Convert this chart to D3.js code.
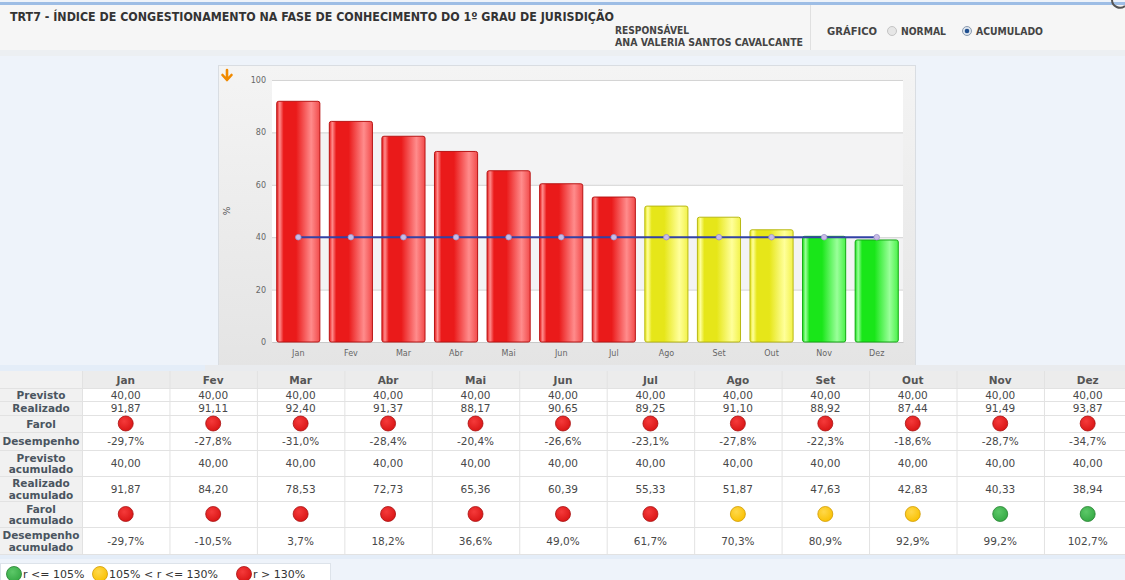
<!DOCTYPE html>
<html><head><meta charset="utf-8">
<script src="https://cdn.jsdelivr.net/npm/d3@7"></script>
<style>
body{margin:0;background:#eef3fa;overflow:hidden}
svg{display:block;font-family:"DejaVu Sans",Verdana,sans-serif}
</style></head>
<body><svg id="c" width="1125" height="580"></svg>
<script>
const months = ["Jan","Fev","Mar","Abr","Mai","Jun","Jul","Ago","Set","Out","Nov","Dez"];
const previsto = [40,40,40,40,40,40,40,40,40,40,40,40];
const realizado = [91.87,91.11,92.40,91.37,88.17,90.65,89.25,91.10,88.92,87.44,91.49,93.87];
const farol = ["r","r","r","r","r","r","r","r","r","r","r","r"];
const desempenho = [-29.7,-27.8,-31.0,-28.4,-20.4,-26.6,-23.1,-27.8,-22.3,-18.6,-28.7,-34.7];
const previstoAcum = [40,40,40,40,40,40,40,40,40,40,40,40];
const realizadoAcum = [91.87,84.20,78.53,72.73,65.36,60.39,55.33,51.87,47.63,42.83,40.33,38.94];
const farolAcum = ["r","r","r","r","r","r","r","y","y","y","g","g"];
const desempenhoAcum = [-29.7,-10.5,3.7,18.2,36.6,49.0,61.7,70.3,80.9,92.9,99.2,102.7];
const yTicks = [0,20,40,60,80,100];
const legendItems = [["g","r <= 105%"],["y","105% < r <= 130%"],["r","r > 130%"]];

const loc = d3.formatLocale({decimal:",",thousands:".",grouping:[3],currency:["",""],minus:"-"});
const f2 = loc.format(".2f"), f1 = loc.format(".1f");
const pct = v => f1(v) + "%";

const svg = d3.select("#c");
const defs = svg.append("defs");

const barCols = {
  r:{base:"#ea1a1a",light:"#ff8c8c",mid:"#f24a4a",edge:"#b81414"},
  y:{base:"#e6e619",light:"#ffff9a",mid:"#f2f24a",edge:"#b8b814"},
  g:{base:"#19e619",light:"#9aff9a",mid:"#4af24a",edge:"#14a814"}
};
Object.entries(barCols).forEach(([k,c])=>{
  const g = defs.append("linearGradient").attr("id","bar"+k).attr("x1","0").attr("x2","1").attr("y1","0").attr("y2","0");
  [[0,c.base],[0.07,c.light],[0.16,c.base],[0.45,c.base],[0.8,c.light],[1,c.mid]].forEach(([o,col])=>g.append("stop").attr("offset",o).attr("stop-color",col));
});
const dotCols = {r:["#f53a3a","#d81414","#a81010"],y:["#ffd84a","#f9c000","#d09a00"],g:["#5cc868","#34a843","#23802e"]};
Object.entries(dotCols).forEach(([k,c])=>{
  const g = defs.append("radialGradient").attr("id","dot"+k).attr("cx","0.4").attr("cy","0.35").attr("r","0.7");
  g.append("stop").attr("offset",0).attr("stop-color",c[0]);
  g.append("stop").attr("offset",1).attr("stop-color",c[1]);
});
const pg = defs.append("linearGradient").attr("id","panel").attr("x1",0).attr("x2",0).attr("y1",0).attr("y2",1);
pg.append("stop").attr("offset",0).attr("stop-color","#f4f4f4");
pg.append("stop").attr("offset",1).attr("stop-color","#e4e4e4");

// ===== header =====
svg.append("rect").attr("x",0).attr("y",0).attr("width",1125).attr("height",580).attr("fill","#eef3fa");
svg.append("rect").attr("x",0).attr("y",5).attr("width",1125).attr("height",45).attr("fill","#f6f6f6");
svg.append("rect").attr("x",0).attr("y",50).attr("width",1125).attr("height",6).attr("fill","#eceff2");
svg.append("rect").attr("x",0).attr("y",2).attr("width",1125).attr("height",3).attr("fill","#9dbde5");
svg.append("line").attr("x1",810.5).attr("x2",810.5).attr("y1",5).attr("y2",50).attr("stroke","#e0e0e0");
svg.append("path").attr("d","M1112,0 A8,8 0 0 0 1125,6").attr("fill","none").attr("stroke","#555").attr("stroke-width",2);

svg.append("text").attr("x",10).attr("y",21).attr("font-size",12).attr("font-weight","bold").attr("fill","#333")
  .attr("textLength",604).attr("lengthAdjust","spacingAndGlyphs")
  .text("TRT7 - ÍNDICE DE CONGESTIONAMENTO NA FASE DE CONHECIMENTO DO 1º GRAU DE JURISDIÇÃO");
svg.append("text").attr("x",615).attr("y",34).attr("font-size",10).attr("font-weight","bold").attr("fill","#444")
  .attr("textLength",74).attr("lengthAdjust","spacingAndGlyphs").text("RESPONSÁVEL");
svg.append("text").attr("x",615).attr("y",46).attr("font-size",10).attr("font-weight","bold").attr("fill","#444")
  .attr("textLength",188).attr("lengthAdjust","spacingAndGlyphs").text("ANA VALERIA SANTOS CAVALCANTE");
svg.append("text").attr("x",827).attr("y",35).attr("font-size",10).attr("font-weight","bold").attr("fill","#444")
  .attr("textLength",50).attr("lengthAdjust","spacingAndGlyphs").text("GRÁFICO");
svg.append("circle").attr("cx",892).attr("cy",31).attr("r",4.5).attr("fill","#e6e6e6").attr("stroke","#c4c4c4");
svg.append("text").attr("x",901).attr("y",35).attr("font-size",10).attr("font-weight","bold").attr("fill","#444")
  .attr("textLength",45).attr("lengthAdjust","spacingAndGlyphs").text("NORMAL");
svg.append("circle").attr("cx",967).attr("cy",31).attr("r",4.5).attr("fill","#dfe6ee").attr("stroke","#8a9aae");
svg.append("circle").attr("cx",967).attr("cy",31).attr("r",2.3).attr("fill","#1f4f8f");
svg.append("text").attr("x",976).attr("y",35).attr("font-size",10).attr("font-weight","bold").attr("fill","#444")
  .attr("textLength",67).attr("lengthAdjust","spacingAndGlyphs").text("ACUMULADO");

// ===== chart panel =====
svg.append("rect").attr("x",218.5).attr("y",65.5).attr("width",697).attr("height",303).attr("fill","url(#panel)").attr("stroke","#d9dde2");
const plot = {l:272,r:903,t:80,b:342};
const x = d3.scaleBand().domain(months).range([plot.l,plot.r]).paddingInner(0.18).paddingOuter(0.09);
const y = d3.scaleLinear().domain([0,100]).range([plot.b,plot.t]);
const cg = svg.append("g");
for(let i=0;i<yTicks.length-1;i++){
  cg.append("rect").attr("x",plot.l).attr("width",plot.r-plot.l)
    .attr("y",y(yTicks[i+1])).attr("height",y(yTicks[i])-y(yTicks[i+1]))
    .attr("fill", i%2===0 ? "#ffffff" : "#f3f3f4");
}
const yAxis = cg.append("g").attr("transform",`translate(${plot.l},0)`)
  .call(d3.axisLeft(y).tickValues(yTicks).tickSize(-(plot.r-plot.l)).tickPadding(6));
yAxis.select(".domain").remove();
yAxis.selectAll(".tick line").attr("stroke","#d4d4d4");
yAxis.selectAll(".tick text").attr("fill","#666").attr("font-size",8).attr("font-family","DejaVu Sans");

const xAxis = cg.append("g").attr("transform",`translate(0,${plot.b})`)
  .call(d3.axisBottom(x).tickSize(0).tickPadding(8));
xAxis.select(".domain").attr("stroke","#c8c8c8");
xAxis.selectAll(".tick text").attr("fill","#666").attr("font-size",8).attr("font-family","DejaVu Sans");

cg.append("text").attr("transform",`translate(230,${(plot.t+plot.b)/2}) rotate(-90)`).attr("text-anchor","middle")
  .attr("font-size",9).attr("fill","#555").text("%");
cg.append("path").attr("d","M227,70 L227,79 M222.5,75 L227,80 L231.5,75").attr("fill","none").attr("stroke","#f08a00").attr("stroke-width",2.6).attr("stroke-linecap","round").attr("stroke-linejoin","round");

cg.selectAll("rect.bar").data(realizadoAcum).join("rect").attr("class","bar")
  .attr("x",(d,i)=>x(months[i])).attr("width",x.bandwidth())
  .attr("y",d=>y(d)).attr("height",d=>plot.b-y(d))
  .attr("rx",2).attr("fill",(d,i)=>`url(#bar${farolAcum[i]})`)
  .attr("stroke",(d,i)=>barCols[farolAcum[i]].edge).attr("stroke-width",1);

const line = d3.line().x((d,i)=>x(months[i])+x.bandwidth()/2).y(d=>y(d));
cg.append("path").datum(previstoAcum).attr("d",line).attr("fill","none").attr("stroke","#3242a6").attr("stroke-width",2);
cg.selectAll("circle.pt").data(previstoAcum).join("circle").attr("class","pt")
  .attr("cx",(d,i)=>x(months[i])+x.bandwidth()/2).attr("cy",d=>y(d)).attr("r",2.8)
  .attr("fill","#c8bce6").attr("stroke","#9a90c8").attr("stroke-width",0.8);

// ===== table =====
const tg = svg.append("g");
const colL = 82, colW = 87.45;
const rows = [
  {label:["Previsto"], h:13, vals:previsto.map(f2)},
  {label:["Realizado"], h:14, vals:realizado.map(f2)},
  {label:["Farol"], h:17, dots:farol, r:7.5},
  {label:["Desempenho"], h:18, vals:desempenho.map(pct)},
  {label:["Previsto","acumulado"], h:26, vals:previstoAcum.map(f2)},
  {label:["Realizado","acumulado"], h:25, vals:realizadoAcum.map(f2)},
  {label:["Farol","acumulado"], h:26, dots:farolAcum, r:7.5},
  {label:["Desempenho","acumulado"], h:27, vals:desempenhoAcum.map(pct)}
];
const tTop = 371, headH = 17;
tg.append("rect").attr("x",0).attr("y",365).attr("width",1125).attr("height",6).attr("fill","#e9ebee");
tg.append("rect").attr("x",0).attr("y",365).attr("width",205).attr("height",6).attr("fill","#e4edf8");
tg.append("rect").attr("x",0).attr("y",tTop).attr("width",1125).attr("height",headH).attr("fill","#ececec");
const totalH = rows.reduce((s,r)=>s+r.h,0);
tg.append("rect").attr("x",0).attr("y",tTop+headH).attr("width",1125).attr("height",totalH).attr("fill","#ffffff");
tg.append("rect").attr("x",0).attr("y",tTop).attr("width",colL).attr("height",headH+totalH).attr("fill","#f1f1f1");
months.forEach((m,i)=>{
  tg.append("text").attr("x",colL+colW*(i+0.5)).attr("y",tTop+12.5).attr("text-anchor","middle")
    .attr("font-size",10.5).attr("font-weight","bold").attr("fill","#555").text(m);
});
let yy = tTop+headH;
rows.forEach(r=>{
  tg.append("line").attr("x1",0).attr("x2",1125).attr("y1",yy+0.5).attr("y2",yy+0.5).attr("stroke","#e2e2e2");
  const cy = yy + r.h/2;
  if(r.label.length===1){
    tg.append("text").attr("x",41).attr("y",cy+4).attr("text-anchor","middle").attr("font-size",10.5).attr("font-weight","bold").attr("fill","#4a5560").text(r.label[0]);
  } else {
    r.label.forEach((t,j)=>tg.append("text").attr("x",41).attr("y",cy-1.5+j*11.5).attr("text-anchor","middle").attr("font-size",10.5).attr("font-weight","bold").attr("fill","#4a5560").text(t));
  }
  if(r.vals){
    r.vals.forEach((v,i)=>tg.append("text").attr("x",colL+colW*(i+0.5)).attr("y",cy+4).attr("text-anchor","middle").attr("font-size",10.5).attr("fill","#484848").text(v));
  } else {
    r.dots.forEach((k,i)=>tg.append("circle").attr("cx",colL+colW*(i+0.5)).attr("cy",cy).attr("r",r.r).attr("fill",`url(#dot${k})`).attr("stroke",dotCols[k][2]).attr("stroke-width",0.8));
  }
  yy += r.h;
});
tg.append("line").attr("x1",0).attr("x2",1125).attr("y1",yy+0.5).attr("y2",yy+0.5).attr("stroke","#e2e2e2");
for(let i=0;i<=12;i++){
  tg.append("line").attr("x1",colL+colW*i+0.5).attr("x2",colL+colW*i+0.5).attr("y1",tTop).attr("y2",yy).attr("stroke","#e2e2e2");
}
tg.append("rect").attr("x",0).attr("y",yy+1).attr("width",1125).attr("height",4).attr("fill","#e4edf8");

// ===== legend =====
const lg = svg.append("g");
lg.append("rect").attr("x",0.5).attr("y",563.5).attr("width",330).attr("height",20).attr("fill","#ffffff").attr("stroke","#dde3ea");
const legX = [14,100,244];
legendItems.forEach(([k,t],i)=>{
  lg.append("circle").attr("cx",legX[i]).attr("cy",574).attr("r",7.5).attr("fill",`url(#dot${k})`).attr("stroke",dotCols[k][2]).attr("stroke-width",0.8);
  lg.append("text").attr("x",legX[i]+9).attr("y",578).attr("font-size",11).attr("fill","#333").text(t);
});
</script></body></html>
